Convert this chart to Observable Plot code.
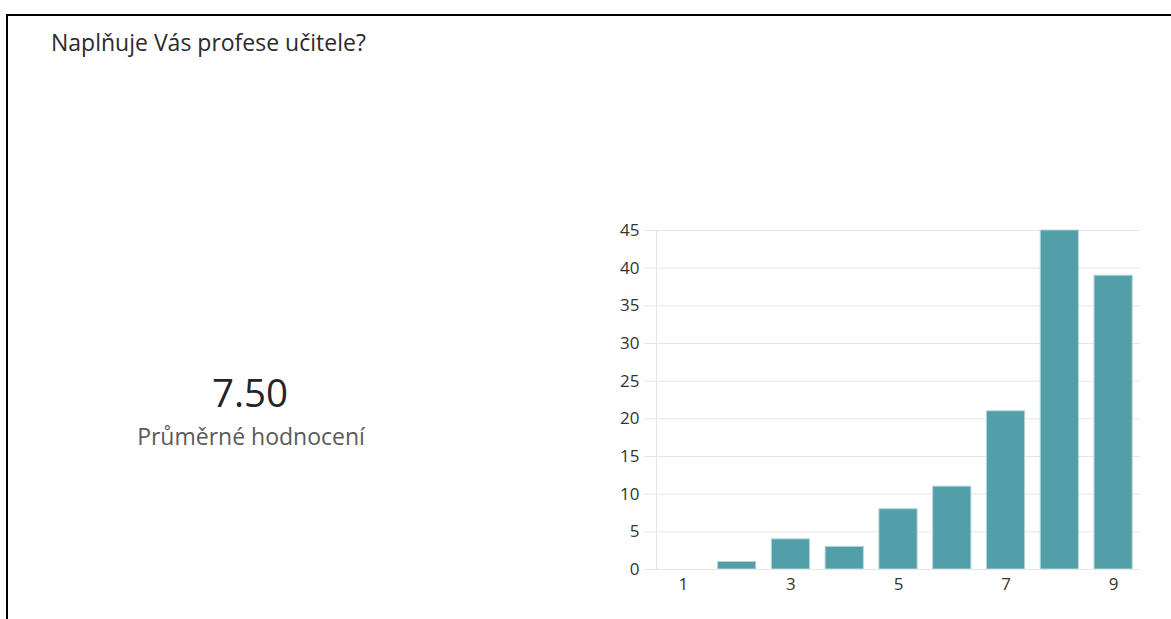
<!DOCTYPE html>
<html>
<head>
<meta charset="utf-8">
<script src="https://cdn.jsdelivr.net/npm/d3@7"></script>
<script src="https://cdn.jsdelivr.net/npm/@observablehq/plot@0.6"></script>
<style>
  html, body { margin: 0; padding: 0; background: #fff; overflow: hidden; }
  body { width: 1171px; height: 619px; position: relative; font-family: "Open Sans", "Noto Sans", sans-serif; }
  #frame { position: absolute; left: 6px; top: 14px; width: 1200px; height: 700px; border: 2px solid #000; box-sizing: border-box; }
  #title { position: absolute; left: 51px; top: 28px; font-size: 23px; color: #2b2b2b; line-height: 28px; white-space: nowrap; }
  #avg { position: absolute; left: 100px; width: 300px; text-align: center; top: 369px; font-size: 38.5px; line-height: 46px; color: #252525; }
  #avgLabel { position: absolute; left: 101px; width: 300px; text-align: center; top: 422px; font-size: 23px; line-height: 28px; color: #5a5a5a; }
  #chart { position: absolute; left: 600px; top: 210px; }
</style>
</head>
<body>
<div id="frame"></div>
<div id="title"></div>
<div id="avg"></div>
<div id="avgLabel"></div>
<div id="chart"></div>
<script>
const titleText = "Naplňuje Vás profese učitele?";
const averageValue = "7.50";
const averageLabel = "Průměrné hodnocení";
const ratings = [1, 2, 3, 4, 5, 6, 7, 8, 9];
const counts = [0, 1, 4, 3, 8, 11, 21, 45, 39];
const xTickLabels = [1, 3, 5, 7, 9];
const yTickValues = [0, 5, 10, 15, 20, 25, 30, 35, 40, 45];

document.getElementById("title").textContent = titleText;
document.getElementById("avg").textContent = averageValue;
document.getElementById("avgLabel").textContent = averageLabel;

const data = ratings.map((r, i) => ({rating: r, count: counts[i]}));

const chart = Plot.plot({
  width: 560,
  height: 400,
  marginLeft: 56,
  marginRight: 20,
  marginTop: 20,
  marginBottom: 41,
  style: {fontFamily: "'Open Sans', 'Noto Sans', sans-serif", fontSize: "17px", color: "#333", background: "transparent", overflow: "visible"},
  x: {type: "band", domain: ratings, paddingInner: 0.29, paddingOuter: 0.145, round: false},
  y: {domain: [0, 45]},
  marks: [
    Plot.gridY(yTickValues, {stroke: "#e6e6e6", strokeOpacity: 1}),
    Plot.frame({anchor: "left", stroke: "#e6e6e6", strokeOpacity: 1}),
    Plot.axisY(yTickValues, {tickSize: 12, tickPadding: 5, stroke: "#e6e6e6", strokeOpacity: 1, label: null, fill: "#333", fontSize: 17}),
    Plot.axisX(xTickLabels, {tickSize: 0, tickPadding: 8, label: null, fill: "#333", fontSize: 17}),
    Plot.barY(data, {x: "rating", y: "count", fill: "#529faa", stroke: "#b3d5da", strokeWidth: 1}),
    Plot.ruleY([0], {stroke: "#e6e6e6"})
  ]
});
document.getElementById("chart").appendChild(chart);
</script>
</body>
</html>
